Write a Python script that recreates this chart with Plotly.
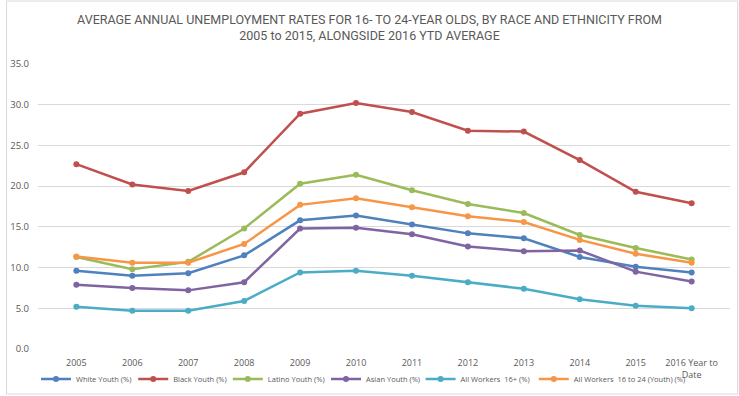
import plotly.graph_objects as go

years = ["2005", "2006", "2007", "2008", "2009", "2010", "2011", "2012", "2013", "2014", "2015", "2016 Year to<br>Date"]

white_youth = [9.6, 9.0, 9.3, 11.5, 15.8, 16.4, 15.3, 14.2, 13.6, 11.3, 10.1, 9.4]
black_youth = [22.7, 20.2, 19.4, 21.7, 28.9, 30.2, 29.1, 26.8, 26.7, 23.2, 19.3, 17.9]
latino_youth = [11.3, 9.8, 10.7, 14.8, 20.3, 21.4, 19.5, 17.8, 16.7, 14.0, 12.4, 11.0]
asian_youth = [7.9, 7.5, 7.2, 8.2, 14.8, 14.9, 14.1, 12.6, 12.0, 12.1, 9.5, 8.3]
all_workers_16 = [5.2, 4.7, 4.7, 5.9, 9.4, 9.6, 9.0, 8.2, 7.4, 6.1, 5.3, 5.0]
all_workers_youth = [11.35, 10.6, 10.6, 12.9, 17.7, 18.5, 17.4, 16.3, 15.6, 13.4, 11.7, 10.6]

series_names = ["White Youth (%)", "Black Youth (%)", "Latino Youth (%)", "Asian Youth (%)",
                "All Workers  16+ (%)", "All Workers  16 to 24 (Youth) (%)"]
series_values = [white_youth, black_youth, latino_youth, asian_youth, all_workers_16, all_workers_youth]
series_colors = ["#4F81BD", "#C0504D", "#9BBB59", "#8064A2", "#4BACC6", "#F79646"]

y_ticks = [0, 5, 10, 15, 20, 25, 30, 35]

# legend entry left edges (paper x), one legend per series to mimic the spaced single row
legend_x = [-0.0029, 0.1376, 0.2743, 0.4162, 0.5529, 0.7165]

fig = go.Figure()
for i, (name, vals, color) in enumerate(zip(series_names, series_values, series_colors)):
    fig.add_trace(go.Scatter(
        x=years, y=vals, name=name, mode="lines+markers",
        line=dict(color=color, width=2.5),
        marker=dict(color=color, size=6),
        legend="legend" if i == 0 else f"legend{i+1}",
    ))

base_font = "Open Sans, Arial, sans-serif"
legend_common = dict(
    orientation="h", xanchor="left", y=-0.105, yanchor="middle",
    font=dict(size=7.5, color="#595959", family=base_font), itemwidth=30,
    bgcolor="rgba(0,0,0,0)",
)

layout_legends = {}
for i, lx in enumerate(legend_x):
    key = "legend" if i == 0 else f"legend{i+1}"
    layout_legends[key] = dict(legend_common, x=lx)

fig.update_layout(
    width=739, height=396,
    margin=dict(l=38, r=9, t=64, b=47, autoexpand=False),
    paper_bgcolor="white", plot_bgcolor="white",
    font=dict(family=base_font, color="#595959", size=9),
    title=dict(
        text="AVERAGE ANNUAL UNEMPLOYMENT RATES FOR 16- TO 24-YEAR OLDS, BY RACE AND ETHNICITY FROM<br>2005 to 2015, ALONGSIDE 2016 YTD AVERAGE",
        x=0.5, xanchor="center", y=0.94, yanchor="middle",
        font=dict(size=12.5, color="#595959", family="Roboto, Open Sans, sans-serif"),
    ),
    xaxis=dict(
        showgrid=False, showline=False, ticks="", zeroline=False,
        tickfont=dict(size=9, color="#595959"), ticklabelstandoff=7,
    ),
    yaxis=dict(
        range=[0, 35], tickvals=y_ticks, ticktext=[f"{v:.1f}" for v in y_ticks],
        showgrid=True, gridcolor="#D9D9D9", gridwidth=1, zeroline=False,
        showline=False, ticks="", ticklabelstandoff=8,
        tickfont=dict(size=9.5, color="#595959"),
    ),
    showlegend=True,
    shapes=[dict(
        type="rect", xref="paper", yref="paper",
        x0=-0.0455, x1=1.0111, y0=-0.158, y1=1.221,
        line=dict(color="#D9D9D9", width=1), fillcolor="rgba(0,0,0,0)",
    )],
    **layout_legends,
)

fig.write_html(
    "out.html",
    config={"displayModeBar": False},
    post_script="document.body.style.margin='0';document.body.style.padding='0';",
)
